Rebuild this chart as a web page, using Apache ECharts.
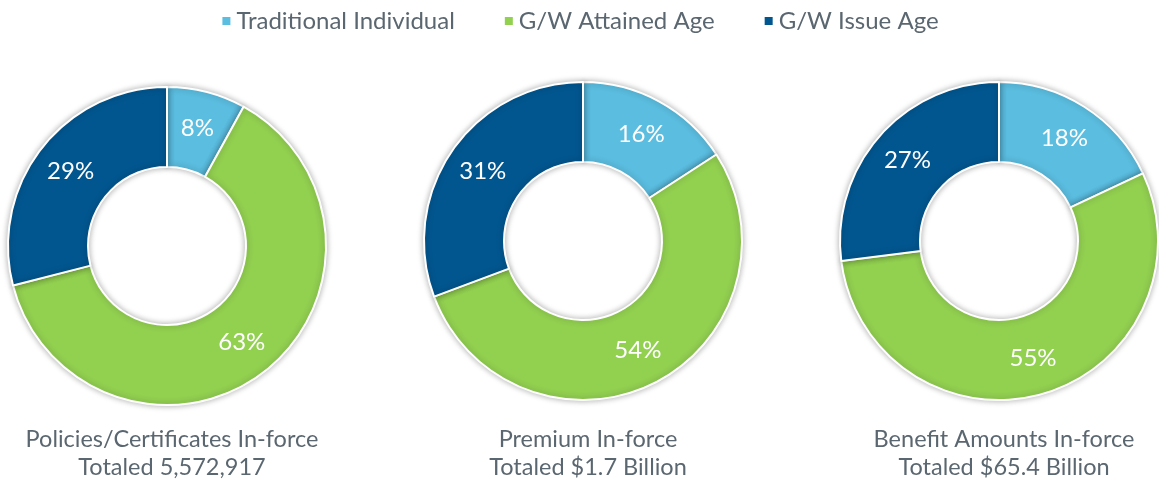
<!DOCTYPE html>
<html>
<head>
<meta charset="utf-8">
<script src="https://cdn.jsdelivr.net/npm/echarts@6/dist/echarts.min.js"></script>
<style>
  html, body { margin: 0; padding: 0; background: #fff; }
  #chart { width: 1159px; height: 479px; }
</style>
</head>
<body>
<div id="chart"></div>
<script>
// legend categories, clockwise from 12 o'clock
const categories = ['Traditional Individual', 'G/W Attained Age', 'G/W Issue Age']
const colors = ['#5BBDE0', '#92D050', '#02568F']

// percentages per donut
const policiesValues = [8, 63, 29]
const premiumValues = [16, 54, 31]
const benefitValues = [18, 55, 27]

const chartTitles = [
  'Policies/Certificates In-force\nTotaled 5,572,917',
  'Premium In-force\nTotaled $1.7 Billion',
  'Benefit Amounts In-force\nTotaled $65.4 Billion'
]

const centers = [[167, 246], [583, 241], [999, 241]]
const textFont = 'Lato, "Open Sans", sans-serif'

function makeSeries (values, idx) {
  return {
    name: chartTitles[idx],
    type: 'pie',
    center: centers[idx],
    radius: [79, 159],
    startAngle: 90,
    clockwise: true,
    silent: true,
    label: {
      show: true,
      position: 'inside',
      color: '#fff',
      fontSize: 24,
      fontFamily: textFont,
      formatter: p => p.value + '%'
    },
    labelLine: { show: false },
    itemStyle: {
      borderColor: '#fff',
      borderWidth: 2,
      shadowBlur: 6,
      shadowColor: 'rgba(0, 0, 0, 0.3)'
    },
    data: values.map((v, i) => ({ name: categories[i], value: v }))
  }
}

const chart = echarts.init(document.getElementById('chart'))
const option = {
  color: colors,
  animation: false,
  legend: {
    top: 4,
    left: 'center',
    icon: 'rect',
    itemWidth: 10,
    itemHeight: 10,
    itemGap: 48,
    textStyle: {
      color: '#5B6770',
      fontSize: 24,
      fontFamily: textFont
    },
    data: categories
  },
  title: chartTitles.map((t, i) => ({
    text: t,
    left: centers[i][0],
    top: 420,
    textAlign: 'center',
    textStyle: {
      color: '#5B6770',
      fontSize: 23.5,
      fontWeight: 'normal',
      fontFamily: textFont,
      lineHeight: 28
    }
  })),
  series: [
    makeSeries(policiesValues, 0),
    makeSeries(premiumValues, 1),
    makeSeries(benefitValues, 2)
  ]
}
chart.setOption(option)
</script>
</body>
</html>
